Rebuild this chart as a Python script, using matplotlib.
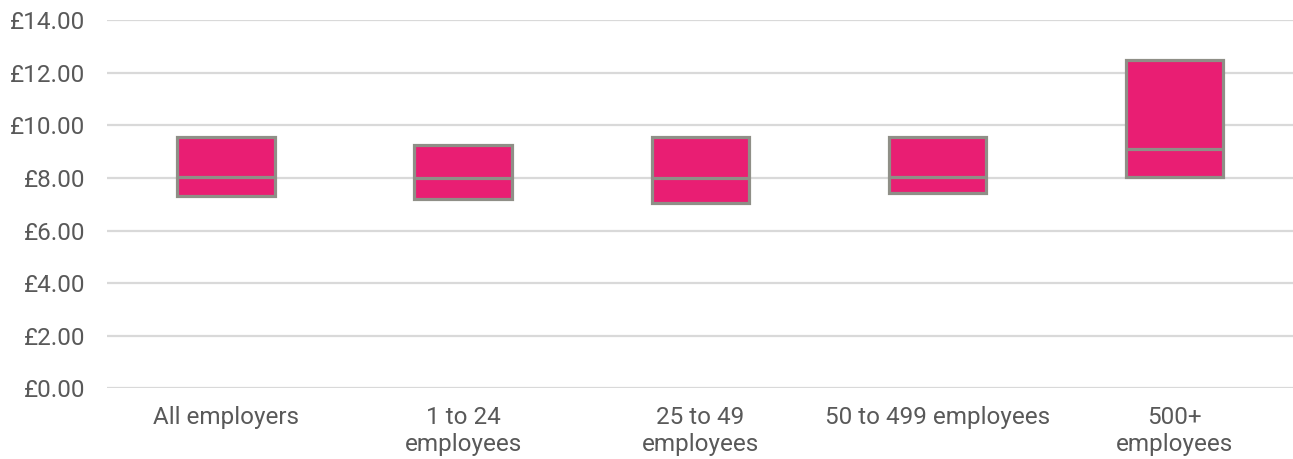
import matplotlib
matplotlib.use('Agg')
import matplotlib.pyplot as plt
from matplotlib.ticker import FuncFormatter

# hourly pay ranges by employer size (lower, median, upper)
categories = ['All employers', '1 to 24\nemployees', '25 to 49\nemployees',
              '50 to 499 employees', '500+\nemployees']
lower = [7.33, 7.20, 7.06, 7.44, 8.05]
median = [8.04, 7.99, 7.98, 8.03, 9.10]
upper = [9.57, 9.27, 9.57, 9.57, 12.48]

plt.rcParams['font.family'] = ['Roboto', 'DejaVu Sans']

fig = plt.figure(figsize=(12.93, 4.59), dpi=100)
ax = fig.add_axes([0.083, 0.154, 0.917, 0.802])

stats = [{'med': m, 'q1': lo, 'q3': hi, 'whislo': lo, 'whishi': hi, 'label': c}
         for c, lo, m, hi in zip(categories, lower, median, upper)]

edge = '#8f8f87'
ax.bxp(stats, widths=0.41, showfliers=False, showcaps=False, patch_artist=True,
       boxprops=dict(facecolor='#e91e73', edgecolor=edge, linewidth=2.3),
       medianprops=dict(color=edge, linewidth=2.3),
       whiskerprops=dict(linewidth=0), zorder=3)

ax.set_xlim(0.5, len(categories) + 0.5)
ax.set_ylim(0, 14)
ax.set_yticks(range(0, 15, 2))
ax.yaxis.set_major_formatter(FuncFormatter(lambda v, p: '£%.2f' % v))
ax.grid(True, axis='y', color='#d9d9d9', linewidth=1.6, zorder=0)
ax.set_axisbelow(True)
for s in ax.spines.values():
    s.set_visible(False)
ax.tick_params(axis='both', length=0, labelsize=17.5, colors='#595959')
ax.tick_params(axis='y', pad=16)
ax.tick_params(axis='x', pad=13)

fig.savefig('out.png', dpi=100)
